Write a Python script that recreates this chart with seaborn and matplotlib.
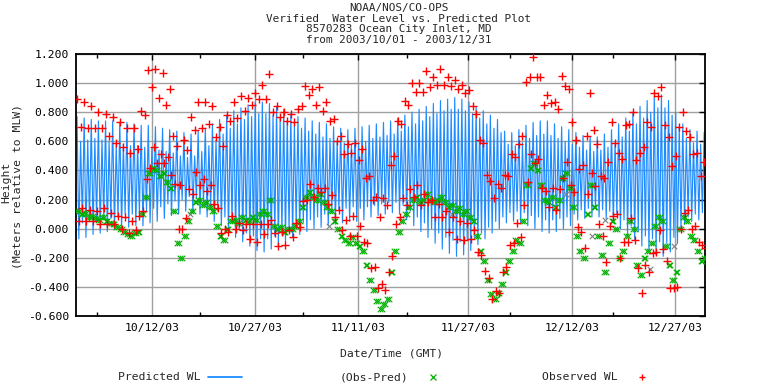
import numpy as np
import pandas as pd
import matplotlib
matplotlib.use("Agg")
import matplotlib.pyplot as plt
import matplotlib.dates as mdates
from matplotlib.lines import Line2D
from matplotlib.ticker import FixedLocator, FuncFormatter
import seaborn as sns

# ---- data (one value per tidal cycle, 12.42 h apart) ----
pred_high = [
    0.77, 0.60, 0.76, 0.61, 0.75, 0.62, 0.74, 0.61, 0.74, 0.60,
    0.74, 0.58, 0.73, 0.58, 0.73, 0.57, 0.72, 0.57, 0.71, 0.56,
    0.71, 0.55, 0.70, 0.54, 0.69, 0.53, 0.68, 0.52, 0.67, 0.50,
    0.66, 0.49, 0.65, 0.50, 0.67, 0.53, 0.69, 0.57, 0.72, 0.61,
    0.75, 0.65, 0.78, 0.69, 0.81, 0.72, 0.83, 0.75, 0.85, 0.77,
    0.87, 0.79, 0.87, 0.79, 0.86, 0.78, 0.84, 0.76, 0.82, 0.74,
    0.79, 0.71, 0.77, 0.69, 0.76, 0.67, 0.74, 0.65, 0.73, 0.63,
    0.72, 0.62, 0.70, 0.60, 0.69, 0.59, 0.68, 0.58, 0.69, 0.59,
    0.70, 0.60, 0.71, 0.62, 0.72, 0.63, 0.73, 0.64, 0.74, 0.65,
    0.76, 0.67, 0.78, 0.70, 0.80, 0.72, 0.82, 0.74, 0.84, 0.77,
    0.86, 0.79, 0.88, 0.81, 0.89, 0.82, 0.90, 0.82, 0.89, 0.81,
    0.87, 0.79, 0.84, 0.76, 0.81, 0.72, 0.78, 0.69, 0.75, 0.66,
    0.67, 0.58, 0.66, 0.57, 0.68, 0.59, 0.71, 0.62, 0.73, 0.64,
    0.74, 0.65, 0.74, 0.64, 0.72, 0.62, 0.70, 0.60, 0.68, 0.58,
    0.66, 0.56, 0.64, 0.54, 0.63, 0.53, 0.63, 0.54, 0.65, 0.56,
    0.68, 0.59, 0.72, 0.63, 0.76, 0.67, 0.80, 0.72, 0.84, 0.76,
    0.88, 0.80, 0.91, 0.83, 0.92, 0.83, 0.88, 0.78, 0.80, 0.70,
    0.72, 0.62, 0.68, 0.59, 0.67, 0.58, 0.66,
]
pred_low = [
    -0.07, 0.04, -0.06, 0.05, -0.04, 0.05, -0.03, 0.06, -0.02, 0.07,
    0.00, 0.08, 0.00, 0.10, 0.01, 0.10, 0.02, 0.11, 0.02, 0.12,
    0.04, 0.14, 0.05, 0.15, 0.07, 0.17, 0.09, 0.19, 0.10, 0.20,
    0.12, 0.22, 0.12, 0.21, 0.10, 0.18, 0.08, 0.15, 0.05, 0.12,
    0.02, 0.08, -0.02, 0.04, -0.06, 0.00, -0.09, -0.03, -0.12, -0.05,
    -0.15, -0.07, -0.16, -0.07, -0.14, -0.05, -0.12, -0.03, -0.09, -0.01,
    -0.06, 0.02, -0.04, 0.04, -0.02, 0.06, 0.00, 0.08, 0.01, 0.10,
    0.02, 0.11, 0.03, 0.13, 0.04, 0.14, 0.05, 0.15, 0.05, 0.14,
    0.06, 0.15, 0.08, 0.16, 0.09, 0.17, 0.10, 0.18, 0.11, 0.18,
    0.10, 0.16, 0.06, 0.12, 0.02, 0.08, -0.02, 0.04, -0.06, 0.00,
    -0.10, -0.03, -0.14, -0.06, -0.17, -0.08, -0.19, -0.09, -0.18, -0.08,
    -0.15, -0.06, -0.11, -0.03, -0.07, 0.01, -0.03, 0.05, 0.00, 0.08,
    0.04, 0.11, 0.05, 0.12, 0.04, 0.11, 0.02, 0.09, 0.00, 0.08,
    -0.02, 0.06, -0.03, 0.06, -0.02, 0.07, 0.00, 0.08, 0.02, 0.10,
    0.06, 0.13, 0.07, 0.14, 0.08, 0.14, 0.08, 0.13, 0.07, 0.12,
    0.04, 0.10, 0.00, 0.06, -0.04, 0.02, -0.08, -0.02, -0.12, -0.05,
    -0.15, -0.07, -0.18, -0.09, -0.19, -0.10, -0.16, -0.06, -0.10, 0.00,
    0.03, 0.08, 0.05, 0.10, 0.06, 0.11, 0.07,
]
resid = [
    0.12, 0.10, 0.11, 0.08, 0.09, 0.07, 0.06, 0.08, 0.05, 0.04,
    0.03, 0.01, 0.00, -0.02, -0.04, -0.05, -0.03, -0.02, 0.10, 0.22,
    0.38, 0.42, 0.40, 0.36, 0.38, 0.32, 0.28, 0.12, -0.10, -0.20,
    -0.05, 0.05, 0.12, 0.18, 0.20, 0.16, 0.18, 0.15, 0.12, 0.02,
    -0.05, -0.08, 0.00, 0.05, 0.06, 0.04, 0.08, 0.06, 0.05, 0.08,
    0.06, 0.10, 0.12, 0.10, 0.20, 0.02, 0.00, 0.01, -0.02, 0.00,
    0.00, 0.02, 0.05, 0.15, 0.22, 0.25, 0.22, 0.20, 0.24, 0.18,
    0.15, 0.12, 0.05, 0.00, -0.05, -0.08, -0.10, -0.06, -0.10, -0.12,
    -0.15, -0.25, -0.35, -0.42, -0.50, -0.55, -0.52, -0.48, -0.30, -0.15,
    -0.02, 0.05, 0.10, 0.15, 0.20, 0.22, 0.18, 0.20, 0.24, 0.20,
    0.18, 0.20, 0.22, 0.18, 0.15, 0.16, 0.12, 0.14, 0.10, 0.12,
    0.08, 0.05, -0.05, -0.15, -0.22, -0.35, -0.45, -0.48, -0.44, -0.38,
    -0.30, -0.22, -0.15, -0.08, -0.10, 0.05, 0.30, 0.42, 0.45, 0.40,
    0.30, 0.20, 0.18, 0.22, 0.15, 0.20, 0.35, 0.38, 0.28, 0.15,
    -0.05, -0.15, -0.20, 0.10, 0.30, 0.15, -0.05, -0.18, -0.30, -0.10,
    0.05, 0.00, -0.20, -0.15, -0.05, 0.05, 0.00, -0.25, -0.32, -0.20,
    -0.15, -0.10, 0.02, 0.08, 0.05, -0.12, -0.25, -0.35, -0.30, 0.00,
    0.08, 0.05, -0.05, -0.08, -0.15, -0.22, -0.20,
]
# a few residuals drawn in grey in the original
flag_dates = ["2003-10-17 12:00", "2003-11-06 18:00", "2003-11-24 16:00",
              "2003-12-11 03:00", "2003-12-14 22:00", "2003-12-16 20:00",
              "2003-12-23 07:00", "2003-12-26 19:00"]
flag_vals = [0.10, 0.02, 0.10, 0.24, -0.05, 0.06, -0.28, -0.12]

title_lines = ["NOAA/NOS/CO-OPS",
               "Verified  Water Level vs. Predicted Plot",
               "8570283 Ocean City Inlet, MD",
               "from 2003/10/01 - 2003/12/31"]
major_dates = ["2003-10-12", "2003-10-27", "2003-11-11",
               "2003-11-27", "2003-12-12", "2003-12-27"]
minor_dates = ["2003-10-04", "2003-10-19", "2003-11-03",
               "2003-11-18", "2003-12-03", "2003-12-18"]
y_ticks = [-0.6, -0.4, -0.2, 0.0, 0.2, 0.4, 0.6, 0.8, 1.0, 1.2]
legend_labels = ["Predicted WL", "(Obs-Pred)", "Observed WL"]

# ---- tables ----
start = pd.Timestamp("2003-10-01 03:36")
n = len(pred_high)
high_t = start + pd.to_timedelta(np.arange(n) * 745.2, unit="min")
low_t = high_t + pd.Timedelta(minutes=372.6)

events = pd.DataFrame({
    "t": list(high_t) + list(low_t),
    "pred": pred_high + pred_low,
    "resid": resid + resid,
}).sort_values("t").reset_index(drop=True)
events["obs"] = events["pred"] + events["resid"]
flags = pd.DataFrame({"t": pd.to_datetime(flag_dates), "v": flag_vals})

BLUE = "#1e8cff"
GREEN = "#00b000"
RED = "#ff0000"
FS = 8.2
FS_TITLE = 7.9

sns.set_theme(style="white")
plt.rcParams["font.family"] = ["DejaVu Sans Mono", "DejaVu Sans"]

W, H = 768, 384
fig = plt.figure(figsize=(W / 100, H / 100), dpi=100)
ax = fig.add_axes([76 / W, 1 - 316 / H, (705 - 76) / W, (316 - 54) / H])

sns.lineplot(data=events, x="t", y="pred", color=BLUE, lw=0.85,
             estimator=None, sort=False, ax=ax, zorder=2)
sns.scatterplot(data=flags, x="t", y="v", marker="x", color="#808080",
                s=16, linewidth=0.8, ax=ax, zorder=3)
sns.scatterplot(data=events, x="t", y="resid", marker="x", color=GREEN,
                s=16, linewidth=0.8, ax=ax, zorder=3)
sns.scatterplot(data=events, x="t", y="obs", marker="+", color=RED,
                s=26, linewidth=1.0, ax=ax, zorder=4)

t0 = pd.Timestamp("2003-10-01")
ax.set_xlim(t0, t0 + pd.Timedelta(days=91.35))
ax.set_ylim(-0.6, 1.2)
ax.xaxis.set_major_locator(FixedLocator(mdates.date2num(pd.to_datetime(major_dates))))
ax.xaxis.set_minor_locator(FixedLocator(mdates.date2num(pd.to_datetime(minor_dates))))
ax.xaxis.set_major_formatter(mdates.DateFormatter("%m/%d/%y"))
ax.yaxis.set_major_locator(FixedLocator(y_ticks))
ax.yaxis.set_major_formatter(FuncFormatter(lambda v, p: f"{v:.3f}"))
ax.set_xlabel("")
ax.set_ylabel("")

ax.grid(True, which="major", color="#a0a0a0", lw=1.0)
ax.set_axisbelow(True)
for sp in ax.spines.values():
    sp.set_color("black")
    sp.set_linewidth(1.3)
ax.tick_params(which="major", direction="in", length=4, width=1.0,
               top=True, right=True, colors="black", labelsize=FS)
ax.tick_params(which="minor", direction="in", length=3, width=1.0,
               top=True, bottom=True, colors="black")
ax.tick_params(axis="x", pad=5)
ax.tick_params(axis="y", pad=5)

for txt, yc in zip(title_lines, [7.5, 18.5, 29.0, 39.5]):
    fig.text(399 / W, 1 - yc / H, txt, ha="center", va="center",
             fontsize=FS_TITLE)

fig.text(392 / W, 1 - 354 / H, "Date/Time (GMT)", ha="center", va="center", fontsize=FS)
fig.text(6 / W, 1 - 182 / H, "Height", rotation=90, ha="center", va="center", fontsize=FS)
fig.text(18 / W, 1 - 186.5 / H, "(Meters relative to MLW)", rotation=90,
         ha="center", va="center", fontsize=FS)

ly = 1 - 377 / H
fig.text(200 / W, ly, legend_labels[0], ha="right", va="center", fontsize=FS)
fig.add_artist(Line2D([208 / W, 242 / W], [ly, ly], color=BLUE, lw=1.3,
                      transform=fig.transFigure))
fig.text(408 / W, ly, legend_labels[1], ha="right", va="center", fontsize=FS)
fig.add_artist(Line2D([433 / W], [ly], marker="x", color=GREEN, ms=4.0, mew=0.9,
                      ls="none", transform=fig.transFigure))
fig.text(618 / W, ly, legend_labels[2], ha="right", va="center", fontsize=FS)
fig.add_artist(Line2D([642 / W], [ly], marker="+", color=RED, ms=5.0, mew=1.0,
                      ls="none", transform=fig.transFigure))

fig.savefig("out.png", dpi=100, facecolor="white")
